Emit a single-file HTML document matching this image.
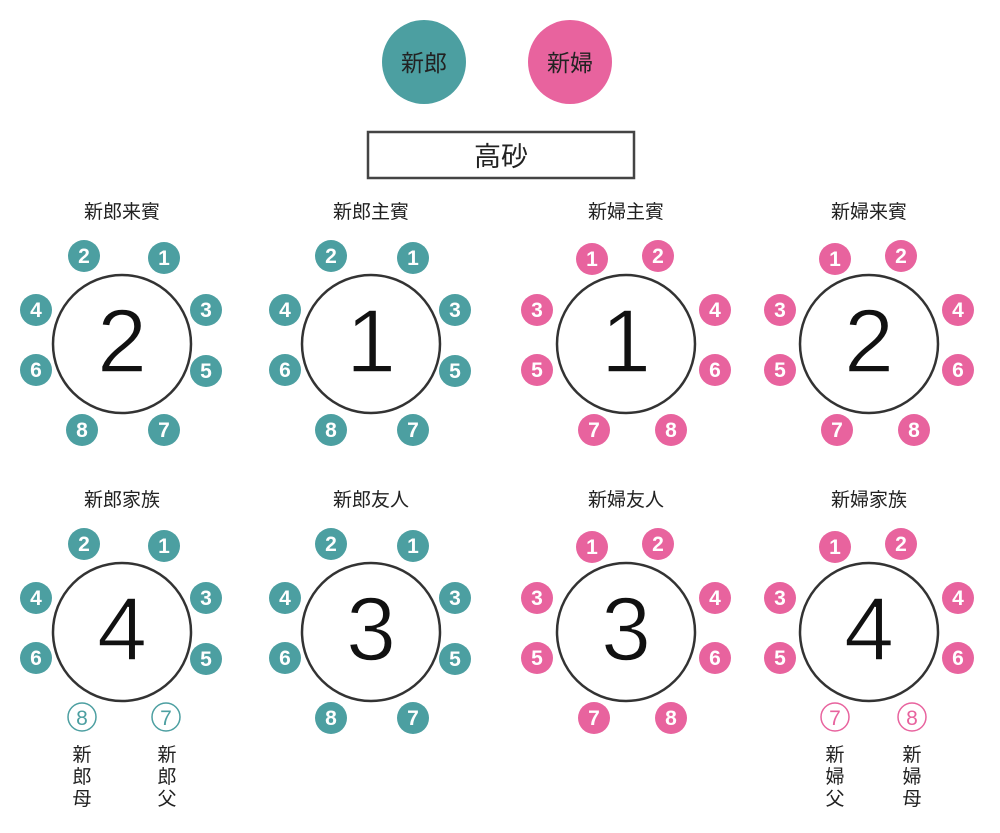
<!DOCTYPE html>
<html><head><meta charset="utf-8"><style>
html,body{margin:0;padding:0;background:#fff;}
svg{display:block;}
text{font-family:"Liberation Sans","Noto Sans CJK JP",sans-serif;}
.t circle{fill:#4c9fa1;r:16px;}
.p circle{fill:#e8639e;r:16px;}
.t text,.p text{fill:#fff;font-size:21px;font-weight:bold;text-anchor:middle;}
.tb{fill:#fff;stroke:#333;stroke-width:2.5;}
.big{font-size:90px;text-anchor:middle;fill:#111;stroke:#fff;stroke-width:1.5px;paint-order:normal;}
.lb{font-size:19px;text-anchor:middle;fill:#222;}
.o circle{fill:#fff;stroke-width:1.5;}
.o text{font-size:21px;text-anchor:middle;}
.vt{font-size:19px;text-anchor:middle;fill:#222;}
</style></head><body>
<svg width="1000" height="833" viewBox="0 0 1000 833">
<circle cx="424" cy="62" r="42" fill="#4c9fa1"/><text x="424" y="71" font-size="23" text-anchor="middle" fill="#222">新郎</text>
<circle cx="570" cy="62" r="42" fill="#e8639e"/><text x="570" y="71" font-size="23" text-anchor="middle" fill="#222">新婦</text>
<rect x="368" y="132" width="266" height="46" fill="#fff" stroke="#444" stroke-width="2.5"/>
<text x="501" y="166" font-size="27" text-anchor="middle" fill="#222">高砂</text>

<text class="lb" x="122" y="218">新郎来賓</text>
<text class="lb" x="371" y="218">新郎主賓</text>
<text class="lb" x="626" y="218">新婦主賓</text>
<text class="lb" x="869" y="218">新婦来賓</text>
<text class="lb" x="122" y="506">新郎家族</text>
<text class="lb" x="371" y="506">新郎友人</text>
<text class="lb" x="626" y="506">新婦友人</text>
<text class="lb" x="869" y="506">新婦家族</text>

<circle class="tb" cx="122" cy="344" r="69"/><text class="big" x="122" y="372">2</text>
<circle class="tb" cx="371" cy="344" r="69"/><text class="big" x="371" y="372">1</text>
<circle class="tb" cx="626" cy="344" r="69"/><text class="big" x="626" y="372">1</text>
<circle class="tb" cx="869" cy="344" r="69"/><text class="big" x="869" y="372">2</text>
<circle class="tb" cx="122" cy="632" r="69"/><text class="big" x="122" y="660">4</text>
<circle class="tb" cx="371" cy="632" r="69"/><text class="big" x="371" y="660">3</text>
<circle class="tb" cx="626" cy="632" r="69"/><text class="big" x="626" y="660">3</text>
<circle class="tb" cx="869" cy="632" r="69"/><text class="big" x="869" y="660">4</text>

<g class="t">
<circle cx="164" cy="258" r="16"/><text x="164" y="265">1</text>
<circle cx="84" cy="256" r="16"/><text x="84" y="263">2</text>
<circle cx="206" cy="310" r="16"/><text x="206" y="317">3</text>
<circle cx="36" cy="310" r="16"/><text x="36" y="317">4</text>
<circle cx="206" cy="371" r="16"/><text x="206" y="378">5</text>
<circle cx="36" cy="370" r="16"/><text x="36" y="377">6</text>
<circle cx="164" cy="430" r="16"/><text x="164" y="437">7</text>
<circle cx="82" cy="430" r="16"/><text x="82" y="437">8</text>

<circle cx="413" cy="258" r="16"/><text x="413" y="265">1</text>
<circle cx="331" cy="256" r="16"/><text x="331" y="263">2</text>
<circle cx="455" cy="310" r="16"/><text x="455" y="317">3</text>
<circle cx="285" cy="310" r="16"/><text x="285" y="317">4</text>
<circle cx="455" cy="371" r="16"/><text x="455" y="378">5</text>
<circle cx="285" cy="370" r="16"/><text x="285" y="377">6</text>
<circle cx="413" cy="430" r="16"/><text x="413" y="437">7</text>
<circle cx="331" cy="430" r="16"/><text x="331" y="437">8</text>

<circle cx="164" cy="546" r="16"/><text x="164" y="553">1</text>
<circle cx="84" cy="544" r="16"/><text x="84" y="551">2</text>
<circle cx="206" cy="598" r="16"/><text x="206" y="605">3</text>
<circle cx="36" cy="598" r="16"/><text x="36" y="605">4</text>
<circle cx="206" cy="659" r="16"/><text x="206" y="666">5</text>
<circle cx="36" cy="658" r="16"/><text x="36" y="665">6</text>

<circle cx="413" cy="546" r="16"/><text x="413" y="553">1</text>
<circle cx="331" cy="544" r="16"/><text x="331" y="551">2</text>
<circle cx="455" cy="598" r="16"/><text x="455" y="605">3</text>
<circle cx="285" cy="598" r="16"/><text x="285" y="605">4</text>
<circle cx="455" cy="659" r="16"/><text x="455" y="666">5</text>
<circle cx="285" cy="658" r="16"/><text x="285" y="665">6</text>
<circle cx="413" cy="718" r="16"/><text x="413" y="725">7</text>
<circle cx="331" cy="718" r="16"/><text x="331" y="725">8</text>
</g>

<g class="p">
<circle cx="592" cy="259" r="16"/><text x="592" y="266">1</text>
<circle cx="658" cy="256" r="16"/><text x="658" y="263">2</text>
<circle cx="537" cy="310" r="16"/><text x="537" y="317">3</text>
<circle cx="715" cy="310" r="16"/><text x="715" y="317">4</text>
<circle cx="537" cy="370" r="16"/><text x="537" y="377">5</text>
<circle cx="715" cy="370" r="16"/><text x="715" y="377">6</text>
<circle cx="594" cy="430" r="16"/><text x="594" y="437">7</text>
<circle cx="671" cy="430" r="16"/><text x="671" y="437">8</text>

<circle cx="835" cy="259" r="16"/><text x="835" y="266">1</text>
<circle cx="901" cy="256" r="16"/><text x="901" y="263">2</text>
<circle cx="780" cy="310" r="16"/><text x="780" y="317">3</text>
<circle cx="958" cy="310" r="16"/><text x="958" y="317">4</text>
<circle cx="780" cy="370" r="16"/><text x="780" y="377">5</text>
<circle cx="958" cy="370" r="16"/><text x="958" y="377">6</text>
<circle cx="837" cy="430" r="16"/><text x="837" y="437">7</text>
<circle cx="914" cy="430" r="16"/><text x="914" y="437">8</text>

<circle cx="592" cy="547" r="16"/><text x="592" y="554">1</text>
<circle cx="658" cy="544" r="16"/><text x="658" y="551">2</text>
<circle cx="537" cy="598" r="16"/><text x="537" y="605">3</text>
<circle cx="715" cy="598" r="16"/><text x="715" y="605">4</text>
<circle cx="537" cy="658" r="16"/><text x="537" y="665">5</text>
<circle cx="715" cy="658" r="16"/><text x="715" y="665">6</text>
<circle cx="594" cy="718" r="16"/><text x="594" y="725">7</text>
<circle cx="671" cy="718" r="16"/><text x="671" y="725">8</text>

<circle cx="835" cy="547" r="16"/><text x="835" y="554">1</text>
<circle cx="901" cy="544" r="16"/><text x="901" y="551">2</text>
<circle cx="780" cy="598" r="16"/><text x="780" y="605">3</text>
<circle cx="958" cy="598" r="16"/><text x="958" y="605">4</text>
<circle cx="780" cy="658" r="16"/><text x="780" y="665">5</text>
<circle cx="958" cy="658" r="16"/><text x="958" y="665">6</text>
</g>

<g class="o">
<circle cx="82" cy="717" r="14" stroke="#4c9fa1"/><text x="82" y="725" fill="#4c9fa1">8</text>
<circle cx="166" cy="717" r="14" stroke="#4c9fa1"/><text x="166" y="725" fill="#4c9fa1">7</text>
<circle cx="835" cy="717" r="14" stroke="#e8639e"/><text x="835" y="725" fill="#e8639e">7</text>
<circle cx="912" cy="717" r="14" stroke="#e8639e"/><text x="912" y="725" fill="#e8639e">8</text>
</g>

<g class="vt">
<text x="82" y="761">新</text><text x="82" y="783">郎</text><text x="82" y="805">母</text>
<text x="167" y="761">新</text><text x="167" y="783">郎</text><text x="167" y="805">父</text>
<text x="835" y="761">新</text><text x="835" y="783">婦</text><text x="835" y="805">父</text>
<text x="912" y="761">新</text><text x="912" y="783">婦</text><text x="912" y="805">母</text>
</g>
</svg>
</body></html>
